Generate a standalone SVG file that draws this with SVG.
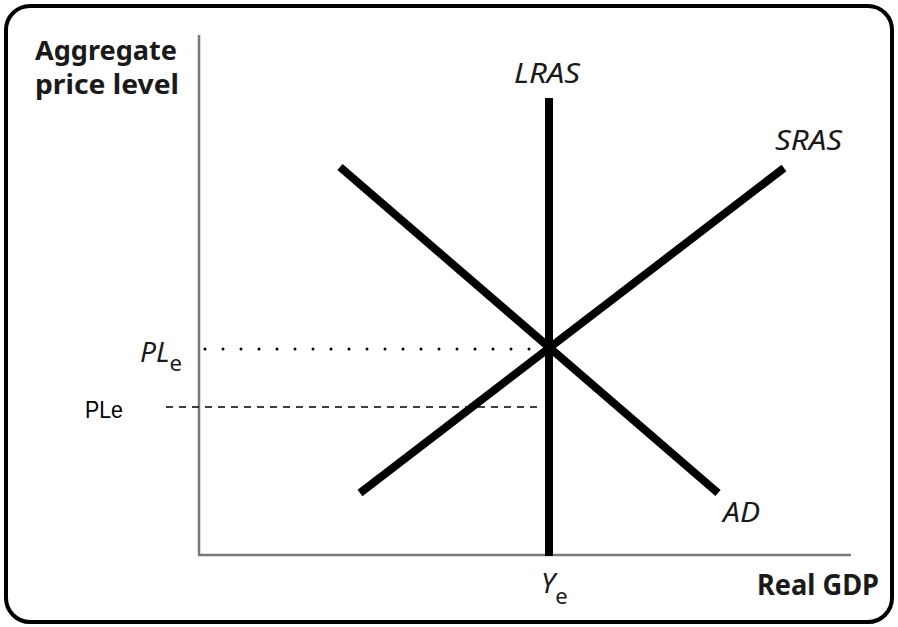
<svg xmlns="http://www.w3.org/2000/svg" width="898" height="627" viewBox="0 0 898 627">
<style>
.lbl{font-family:"Noto Sans","Open Sans","DejaVu Sans",sans-serif;fill:#1a1a1a}
.b{font-weight:bold}
.i{font-style:italic}
.axis{stroke:#7a7a7a;stroke-width:2.5;fill:none}
.curve{stroke:#000;stroke-width:8;fill:none}
</style>
<rect x="6" y="6" width="886" height="616" rx="24" ry="24" fill="#fff" stroke="#000" stroke-width="4"/>
<g id="axes">
<line class="axis" x1="199" y1="35" x2="199" y2="555"/>
<line class="axis" x1="198" y1="555" x2="851" y2="555"/>
<text class="lbl b" x="35" y="60" font-size="26" textLength="142" lengthAdjust="spacingAndGlyphs">Aggregate</text>
<text class="lbl b" x="35" y="94" font-size="26" textLength="144" lengthAdjust="spacingAndGlyphs">price level</text>
<text class="lbl b" x="757" y="595" font-size="28" textLength="122" lengthAdjust="spacingAndGlyphs">Real GDP</text>
</g>
<g id="connectors">
<line x1="205" y1="349" x2="540" y2="349" stroke="#000" stroke-width="3" stroke-linecap="round" stroke-dasharray="0 18"/>
<line x1="166" y1="407" x2="538" y2="407" stroke="#000" stroke-width="1.5" stroke-dasharray="7 6"/>
</g>
<g id="LRAS">
<line class="curve" x1="549" y1="98" x2="549" y2="556"/>
<text class="lbl i" x="514" y="83" font-size="28" textLength="66" lengthAdjust="spacingAndGlyphs">LRAS</text>
</g>
<g id="SRAS">
<line class="curve" x1="360" y1="493" x2="784" y2="168"/>
<text class="lbl i" x="775" y="150" font-size="28" textLength="67" lengthAdjust="spacingAndGlyphs">SRAS</text>
</g>
<g id="AD">
<line class="curve" x1="340" y1="167" x2="718" y2="493"/>
<text class="lbl i" x="723" y="522" font-size="28" textLength="37" lengthAdjust="spacingAndGlyphs">AD</text>
</g>
<g id="PLe-label">
<text class="lbl i" x="140" y="362" font-size="28" textLength="42" lengthAdjust="spacingAndGlyphs">PL<tspan font-style="normal" font-size="22" dy="9">e</tspan></text>
</g>
<g id="PLe-plain">
<text x="85" y="418" font-family="'Liberation Sans',Arial,sans-serif" font-size="24" fill="#000" textLength="38" lengthAdjust="spacingAndGlyphs">PLe</text>
</g>
<g id="Ye-label">
<text class="lbl i" x="541" y="593" font-size="28">Y<tspan font-style="normal" font-size="22" dy="11">e</tspan></text>
</g>
</svg>
